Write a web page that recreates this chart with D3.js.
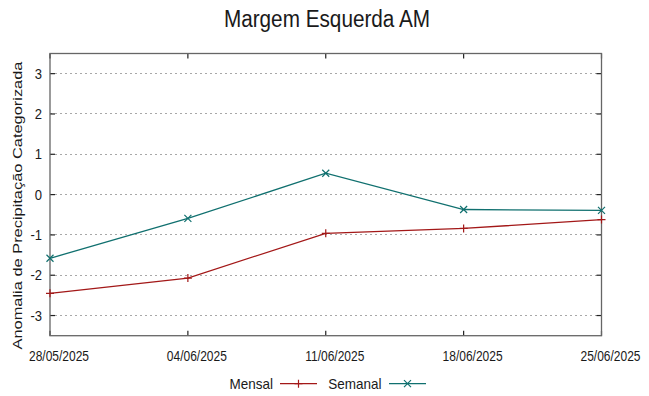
<!DOCTYPE html>
<html>
<head>
<meta charset="utf-8">
<script src="https://cdn.jsdelivr.net/npm/d3@7"></script>
<style>
  html, body { margin: 0; padding: 0; background: #fff; }
  svg { display: block; }
  text { font-family: "Liberation Sans", Arial, sans-serif; fill: #1a1a1a; }
</style>
</head>
<body>
<svg id="chart" width="649" height="396"></svg>
<script>
// ---- data ----
const dates = ["2025-05-28", "2025-06-04", "2025-06-11", "2025-06-18", "2025-06-25"];
const mensal = [-2.45, -2.07, -0.96, -0.84, -0.62];
const semanal = [-1.58, -0.59, 0.53, -0.37, -0.39];
const xTickLabels = ["28/05/2025", "04/06/2025", "11/06/2025", "18/06/2025", "25/06/2025"];
const yTicks = [-3, -2, -1, 0, 1, 2, 3];
const seriesNames = ["Mensal", "Semanal"];
const title = "Margem Esquerda AM";
const yLabel = "Anomalia de Precipitação Categorizada";

// ---- layout ----
const pL = 50, pR = 601.5, pT = 53.5, pB = 335.7;
const SX = 0.87; // horizontal text compression
const red = "#a31818", teal = "#10706f";

const svg = d3.select("#chart");
const parse = d3.timeParse("%Y-%m-%d");
const xd = dates.map(parse);

const x = d3.scaleTime().domain([xd[0], xd[xd.length - 1]]).range([pL, pR]);
const y = d3.scaleLinear().domain([-3.5, 3.5]).range([pB, pT]);

// grid
svg.append("g").selectAll("line").data(yTicks).join("line")
  .attr("x1", pL).attr("x2", pR)
  .attr("y1", d => y(d)).attr("y2", d => y(d))
  .attr("stroke", "#a8a8a8").attr("stroke-width", 1)
  .attr("stroke-dasharray", "2,3")
  .attr("shape-rendering", "crispEdges");

// ticks (inward, mirrored)
const tk = svg.append("g").attr("stroke", "#222").attr("stroke-width", 1.2);
yTicks.forEach(d => {
  tk.append("line").attr("x1", pL).attr("x2", pL + 5).attr("y1", y(d)).attr("y2", y(d));
  tk.append("line").attr("x1", pR).attr("x2", pR - 5).attr("y1", y(d)).attr("y2", y(d));
});
xd.forEach(d => {
  tk.append("line").attr("x1", x(d)).attr("x2", x(d)).attr("y1", pB).attr("y2", pB - 5);
  tk.append("line").attr("x1", x(d)).attr("x2", x(d)).attr("y1", pT).attr("y2", pT + 5);
});

// frame
svg.append("rect").attr("x", pL).attr("y", pT)
  .attr("width", pR - pL).attr("height", pB - pT)
  .attr("fill", "none").attr("stroke", "#666").attr("stroke-width", 1.3);

// y tick labels
svg.append("g").selectAll("text").data(yTicks).join("text")
  .attr("transform", d => `translate(42,${y(d) + 5}) scale(${SX},1)`)
  .attr("text-anchor", "end").attr("font-size", 15)
  .text(d => d);

// x tick labels
svg.append("g").selectAll("text").data(xd).join("text")
  .attr("transform", (d, i) => `translate(${x(d) + 9},${360.7}) scale(${SX},1)`)
  .attr("text-anchor", "middle").attr("font-size", 13.8)
  .text((d, i) => xTickLabels[i]);

// title
svg.append("text")
  .attr("transform", `translate(327,27.3) scale(0.89,1)`)
  .attr("text-anchor", "middle").attr("font-size", 23.3)
  .text(title);

// y label
svg.append("text")
  .attr("transform", `translate(22,205.5) rotate(-90) scale(1,0.8)`)
  .attr("text-anchor", "middle").attr("font-size", 16.4)
  .text(yLabel);

// lines
const line = d3.line().x((d, i) => x(xd[i])).y(d => y(d));
const plot = svg.append("g");
plot.append("path").datum(mensal).attr("d", line)
  .attr("fill", "none").attr("stroke", red).attr("stroke-width", 1.3);
plot.append("path").datum(semanal).attr("d", line)
  .attr("fill", "none").attr("stroke", teal).attr("stroke-width", 1.3);

const plusPath = s => `M${-s},0H${s}M0,${-s}V${s}`;
const crossPath = s => `M${-s},${-s}L${s},${s}M${-s},${s}L${s},${-s}`;

plot.append("g").selectAll("path").data(mensal).join("path")
  .attr("transform", (d, i) => `translate(${x(xd[i])},${y(d)})`)
  .attr("d", plusPath(4)).attr("stroke", red).attr("stroke-width", 1.2).attr("fill", "none");
plot.append("g").selectAll("path").data(semanal).join("path")
  .attr("transform", (d, i) => `translate(${x(xd[i])},${y(d)})`)
  .attr("d", crossPath(3.5)).attr("stroke", teal).attr("stroke-width", 1.2).attr("fill", "none");

// legend
const legend = [
  { name: seriesNames[0], color: red, textEnd: 273, x1: 280, x2: 317, marker: plusPath(4) },
  { name: seriesNames[1], color: teal, textEnd: 381.5, x1: 389, x2: 426, marker: crossPath(3.5) }
];
const ly = 383.7;
legend.forEach(l => {
  svg.append("text")
    .attr("transform", `translate(${l.textEnd},388.5) scale(0.9,1)`)
    .attr("text-anchor", "end").attr("font-size", 15)
    .text(l.name);
  svg.append("line").attr("x1", l.x1).attr("x2", l.x2).attr("y1", ly).attr("y2", ly)
    .attr("stroke", l.color).attr("stroke-width", 1.3);
  svg.append("path").attr("transform", `translate(${(l.x1 + l.x2) / 2},${ly})`)
    .attr("d", l.marker).attr("stroke", l.color).attr("stroke-width", 1.2).attr("fill", "none");
});
</script>
</body>
</html>
